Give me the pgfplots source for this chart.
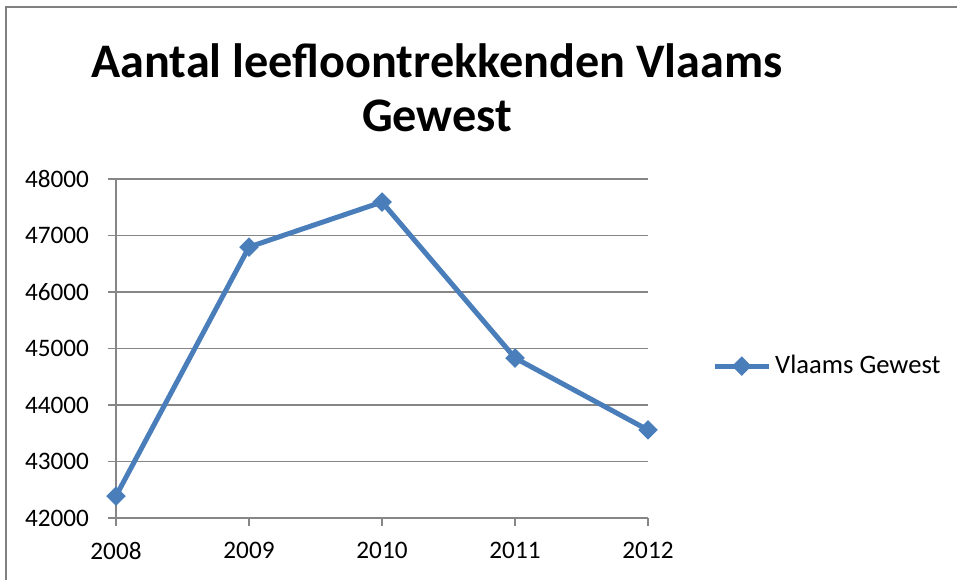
\documentclass[border=0pt]{standalone}
\usepackage{fontspec}
\setmainfont{Carlito}
\usepackage{pgfplots}
\pgfplotsset{compat=1.18}

\definecolor{xlblue}{RGB}{74,126,187}
\definecolor{xlgrid}{RGB}{134,134,134}
\definecolor{xlframe}{RGB}{128,128,128}

\begin{document}
\begin{tikzpicture}
% page = 957 x 579 px, 1px = 0.5pt
\useasboundingbox (0pt,0pt) rectangle (478.5pt,289.5pt);
\draw[xlframe, line width=1pt] (3pt,-5pt) rectangle (485pt,286pt);

\node[font=\fontsize{24.1}{29}\selectfont\bfseries, anchor=base] at (218.5pt,250.5pt) {Aantal leefloontrekkenden Vlaams};
\node[font=\fontsize{24.1}{29}\selectfont\bfseries, anchor=base] at (218.5pt,223.5pt) {Gewest};

\begin{axis}[
  at={(58pt,30.5pt)}, anchor=south west,
  scale only axis, width=266pt, height=169.5pt,
  xmin=2008, xmax=2012, ymin=42000, ymax=48000,
  xtick={2008,2009,2010,2011,2012},
  ytick={42000,43000,...,48000},
  scaled y ticks=false,
  yticklabel={\pgfmathprintnumber[fixed,precision=0,1000 sep={}]{\tick}},
  axis lines=left, axis line style={xlgrid, line width=0.9pt, -},
  ymajorgrids, grid style={xlgrid, line width=0.9pt},
  tick align=outside, major tick length=4pt,
  tick style={xlgrid, line width=0.9pt},
  ticklabel style={font=\fontsize{12.6}{15}\selectfont},
  /pgf/number format/assume math mode=true,
  /pgf/number format/1000 sep={},
  xticklabel style={yshift=-4.5pt},
  yticklabel style={xshift=-6pt},
  clip=false,
  legend style={at={(1.12,0.448)}, anchor=west, draw=none, fill=none,
    font=\fontsize{13.3}{15}\selectfont, inner sep=0pt},
  legend image code/.code={\draw[mark repeat=2,mark phase=2] plot coordinates {(0pt,0pt) (13.5pt,0pt) (27pt,0pt)};},
]
\addplot[xlblue, line width=2.5pt, mark=square*, mark size=3.2pt,
  mark options={rotate=45, line width=0.5pt}]
  coordinates {(2008,42389) (2009,46796) (2010,47593) (2011,44832) (2012,43558)};
\addlegendentry{Vlaams Gewest}
\end{axis}
\end{tikzpicture}
\end{document}
